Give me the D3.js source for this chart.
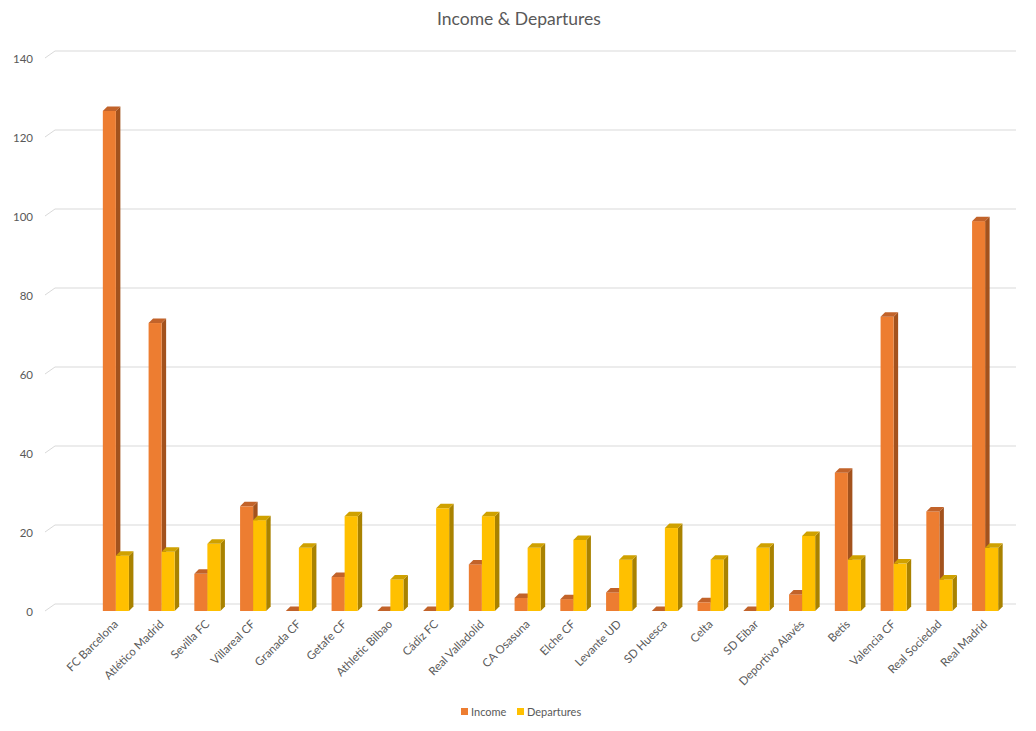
<!DOCTYPE html>
<html>
<head>
<meta charset="utf-8">
<script src="https://cdn.jsdelivr.net/npm/d3@7"></script>
<style>
  body { margin: 0; background: #fff; }
  text { font-family: Lato, "Noto Sans", sans-serif; fill: #595959; }
</style>
</head>
<body>
<script>
//------------ DATA ----------------------
const teams = ["FC Barcelona", "Atlético Madrid", "Sevilla FC", "Villareal CF", "Granada CF",
  "Getafe CF", "Athletic Bilbao", "Cádiz FC", "Real Valladolid", "CA Osasuna", "Elche CF",
  "Levante UD", "SD Huesca", "Celta", "SD Eibar", "Deportivo Alavés", "Betis", "Valencia CF",
  "Real Sociedad", "Real Madrid"];
const income = [126.6, 72.9, 9.4, 26.5, 0, 8.6, 0, 0, 11.8, 3.3, 3, 4.7, 0, 2.2, 0, 4.2, 35, 74.5, 25.2, 98.7];
const departures = [14, 15, 17, 23, 16, 24, 8, 26, 24, 16, 18, 13, 21, 13, 16, 19, 13, 12, 8, 16];
const yTicks = [0, 20, 40, 60, 80, 100, 120, 140];
const seriesNames = ["Income", "Departures"];
//----------------------------------------

const width = 1036, height = 731;
const depth = 4.5;          // 3d offset of the bars
const wallDx = 10, wallDy = 7; // offset of the back wall

const colors = {
  Income:     { front: "#ED7D31", side: "#A3521D", top: "#C2632A" },
  Departures: { front: "#FFC000", side: "#A98200", top: "#CFA100" }
};

const svg = d3.select("body").append("svg")
  .attr("width", width)
  .attr("height", height);

const y = d3.scaleLinear().domain([0, 140]).range([611, 58]);

const x = d3.scaleBand()
  .domain(teams)
  .range([93, 1008])
  .paddingInner(0.43)
  .paddingOuter(0.215);

const x1 = d3.scaleBand()
  .domain(seriesNames)
  .range([0, x.bandwidth()]);

// title
svg.append("text")
  .attr("x", 519).attr("y", 25)
  .attr("text-anchor", "middle")
  .style("font-size", "17.5px")
  .text("Income & Departures");

// back wall grid + side diagonal
const grid = svg.append("g");
yTicks.forEach(v => {
  grid.append("line")
    .attr("x1", 45).attr("y1", y(v))
    .attr("x2", 45 + wallDx).attr("y2", y(v) - wallDy)
    .attr("stroke", "#d9d9d9");
  grid.append("line")
    .attr("x1", 45 + wallDx).attr("y1", y(v) - wallDy)
    .attr("x2", 1016).attr("y2", y(v) - wallDy)
    .attr("stroke", "#d9d9d9");
  grid.append("text")
    .attr("x", 33).attr("y", y(v) + 1)
    .attr("dy", "0.35em")
    .attr("text-anchor", "end")
    .style("font-size", "11.5px")
    .text(v);
});

// bars
const rows = teams.map((t, i) => ({ team: t, Income: income[i], Departures: departures[i] }));

const groups = svg.append("g").selectAll("g")
  .data(rows)
  .join("g")
  .attr("transform", d => `translate(${x(d.team)},0)`);

seriesNames.forEach(s => {
  const w = x1.bandwidth();
  groups.each(function(d) {
    const g = d3.select(this);
    const x0 = x1(s), yt = y(d[s]), yb = y(0);
    // side face
    g.append("path")
      .attr("d", `M${x0 + w},${yb} L${x0 + w + depth},${yb - depth} L${x0 + w + depth},${yt - depth} L${x0 + w},${yt} Z`)
      .attr("fill", colors[s].side);
    // front face
    g.append("rect")
      .attr("x", x0).attr("y", yt)
      .attr("width", w).attr("height", yb - yt)
      .attr("fill", colors[s].front);
    // top face
    g.append("path")
      .attr("d", `M${x0},${yt} L${x0 + depth},${yt - depth} L${x0 + w + depth},${yt - depth} L${x0 + w},${yt} Z`)
      .attr("fill", colors[s].top);
  });
});

// category labels
svg.append("g").selectAll("text")
  .data(teams)
  .join("text")
  .attr("transform", d => `translate(${x(d) + x.bandwidth() / 2},${622}) rotate(-45)`)
  .attr("text-anchor", "end")
  .attr("dy", "0.35em")
  .style("font-size", "11.5px")
  .text(d => d);

// legend
const legend = svg.append("g");
const legendPos = [461, 517];
seriesNames.forEach((s, i) => {
  legend.append("rect")
    .attr("x", legendPos[i]).attr("y", 708)
    .attr("width", 7).attr("height", 7)
    .attr("fill", colors[s].front);
  legend.append("text")
    .attr("x", legendPos[i] + 10).attr("y", 712)
    .attr("dy", "0.35em")
    .style("font-size", "11px")
    .text(s);
});
</script>
</body>
</html>
